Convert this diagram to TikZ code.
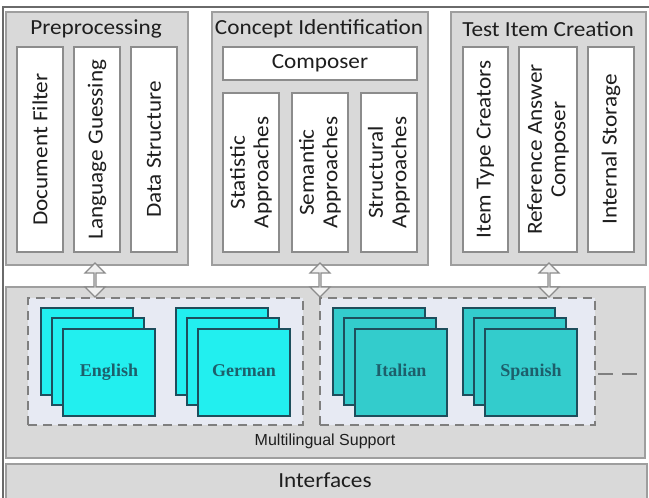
\documentclass[tikz,border=0pt]{standalone}
\usepackage{fontspec}
\setmainfont{Carlito}[FakeStretch=1.08]
\newfontfamily\arialf{Liberation Sans}
\newfontfamily\timesf{Liberation Serif}
\usetikzlibrary{shapes.arrows}
\definecolor{panel}{HTML}{D9D9D9}
\definecolor{pline}{HTML}{9E9E9E}
\definecolor{iline}{HTML}{8C8C8C}
\definecolor{dbox}{HTML}{E7EAF3}
\definecolor{dline}{HTML}{7F7F7F}
\definecolor{cy}{HTML}{22EFEF}
\definecolor{tl}{HTML}{33CCCC}
\definecolor{tedge}{HTML}{1E4E5C}
\definecolor{ttext}{HTML}{1D5F6B}
\definecolor{txt}{HTML}{1E1E1E}
\definecolor{frame}{HTML}{6A6A6A}
\begin{document}
\begin{tikzpicture}[x=1pt,y=-1pt,
  panelbox/.style={draw=pline, line width=1.6pt, fill=panel, inner sep=0pt},
  itembox/.style={draw=iline, line width=1.3pt, fill=white, inner sep=0pt, align=center,
     font=\fontsize{21.5}{23.5}\selectfont, text=txt},
  titletext/.style={font=\fontsize{21.5}{23.5}\selectfont, text=txt, inner sep=0pt},
  dashbox/.style={draw=dline, line width=1.8pt, dash pattern=on 9pt off 6pt, fill=dbox, inner sep=0pt},
  langbox/.style={draw=tedge, line width=1.2pt, minimum width=92pt, minimum height=87pt, inner sep=0pt,
     text height=12pt, text depth=4pt,
     font=\timesf\bfseries\fontsize{18}{20}\selectfont, text=ttext},
  darrow/.style={double arrow, draw=iline, fill=white!94!black, line width=1.2pt, rotate=90,
     minimum height=34pt, minimum width=20pt, double arrow head extend=5pt, inner sep=0pt}
]
\useasboundingbox (0,0) rectangle (649,498);
\fill[white] (0,0) rectangle (649,498);
% outer frame
\draw[frame, line width=1.6pt] (3,7) rectangle (652,505);

% panels
\node[panelbox, minimum width=182pt, minimum height=253pt] (pre) at (97,138.5) {};
\node[panelbox, minimum width=216pt, minimum height=253pt] (con) at (320,138.5) {};
\node[panelbox, minimum width=195pt, minimum height=253pt] (tic) at (548.5,138.5) {};

\node[titletext] (pret) at (96,29) {Preprocessing};
\node[titletext] (cont) at (319,29) {Concept Identification};
\node[titletext] (tict) at (548,29) {Test Item Creation};

% Preprocessing items
\node[itembox, rotate=90, minimum width=205pt, minimum height=46pt] (df) at (40,149.5) {Document Filter};
\node[itembox, rotate=90, minimum width=205pt, minimum height=46pt] (lg) at (97,149.5) {Language Guessing};
\node[itembox, rotate=90, minimum width=205pt, minimum height=46pt] (ds) at (154,149.5) {Data Structure};

% Concept identification items
\node[itembox, minimum width=194pt, minimum height=33pt] (comp) at (320,63.5) {Composer};
\node[itembox, rotate=90, minimum width=159pt, minimum height=56pt] (stat) at (251,172.5) {Statistic\\Approaches};
\node[itembox, rotate=90, minimum width=159pt, minimum height=56pt] (sem) at (320,172.5) {Semantic\\Approaches};
\node[itembox, rotate=90, minimum width=159pt, minimum height=56pt] (str) at (389,172.5) {Structural\\Approaches};

% Test item creation items
\node[itembox, rotate=90, minimum width=205pt, minimum height=45pt] (itc) at (485.5,149.5) {Item Type Creators};
\node[itembox, rotate=90, minimum width=205pt, minimum height=58pt] (rac) at (548,149.5) {Reference Answer\\Composer};
\node[itembox, rotate=90, minimum width=205pt, minimum height=46pt] (ist) at (611,149.5) {Internal Storage};

% Multilingual support
\node[panelbox, minimum width=639pt, minimum height=171pt] (ml) at (325.5,372.5) {};
\node[panelbox, minimum width=641pt, minimum height=41pt] (intf) at (326.5,484.5) {};
\node[font=\fontsize{21.5}{23.5}\selectfont, text=txt, inner sep=0pt] (intft) at (325,480) {Interfaces};

\node[dashbox, minimum width=275pt, minimum height=127pt] (dl) at (165.5,361.5) {};
\node[dashbox, minimum width=275pt, minimum height=127pt] (dr) at (457.5,361.5) {};
\coordinate (dstart) at (598,374);
\coordinate (dend) at (640,374);
\draw[dline, line width=1.8pt, dash pattern=on 15pt off 9pt] (dstart) -- (dend);
\node[font=\arialf\fontsize{16}{18}\selectfont, text=txt, inner sep=0pt] (mlt) at (325,441) {Multilingual Support};

% language stacks
\node[langbox, fill=cy] (en1) at (87,351.5) {};
\node[langbox, fill=cy] (en2) at (98,361.5) {};
\node[langbox, fill=cy] (en3) at (109,372.5) {English};
\node[langbox, fill=cy] (de1) at (222,351.5) {};
\node[langbox, fill=cy] (de2) at (233,361.5) {};
\node[langbox, fill=cy] (de3) at (244,372.5) {German};
\node[langbox, fill=tl] (it1) at (379,351.5) {};
\node[langbox, fill=tl] (it2) at (390,361.5) {};
\node[langbox, fill=tl] (it3) at (401,372.5) {Italian};
\node[langbox, fill=tl] (es1) at (509,351.5) {};
\node[langbox, fill=tl] (es2) at (520,361.5) {};
\node[langbox, fill=tl] (es3) at (531,372.5) {Spanish};

% double arrows
\node[darrow] (a1) at (95,280) {};
\node[darrow] (a2) at (320,280) {};
\node[darrow] (a3) at (549,280) {};
\end{tikzpicture}
\end{document}
